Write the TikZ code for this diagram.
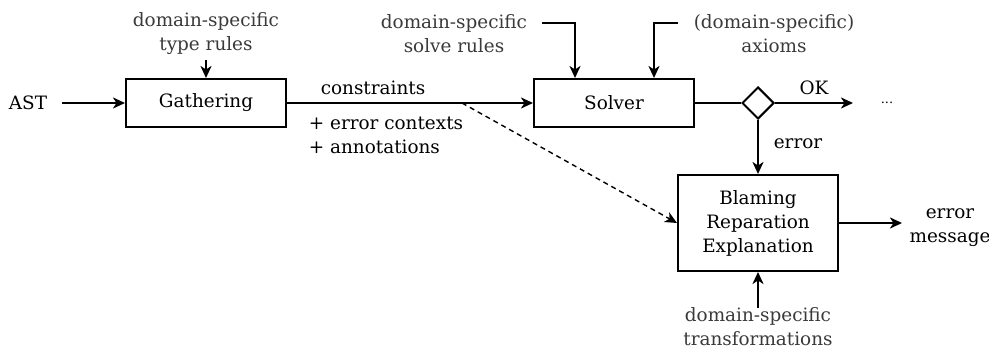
\documentclass[tikz,border=0pt]{standalone}
\usepackage{fontspec}
\setmainfont{DejaVu Serif}
\usetikzlibrary{arrows.meta,shapes.geometric}
\definecolor{annot}{HTML}{3A3A3A}
\begin{document}
\begin{tikzpicture}[x=1pt,y=-1pt,
  every node/.style={font=\fontsize{18.4}{24}\selectfont, inner sep=0pt},
  box/.style={draw, line width=2pt, minimum width=160pt, minimum height=48pt, align=center},
  lbl/.style={text=annot, align=center},
  conn/.style={line width=2pt, -{Stealth[length=12pt,width=11pt,inset=3.5pt]}},
  plain/.style={line width=2pt},
  dashconn/.style={line width=1.4pt, dash pattern=on 5pt off 4pt, -{Stealth[length=12pt,width=11pt,inset=3.5pt]}},
]
\useasboundingbox (0,0) rectangle (989,350);
% boxes
\node[box] (gath) at (206,103) {Gathering};
\node[box] (solv) at (614,103) {Solver};
\node[box, minimum height=96pt] (blame) at (758,223) {Blaming\\Reparation\\Explanation};
\node[draw, diamond, line width=2pt, minimum width=32pt, minimum height=32pt] (dia) at (758,103) {};
% labels
\node (ast) at (28,103) {AST};
\node[lbl] (tr) at (206,34) {domain-specific\\type rules};
\node[lbl] (sr) at (454,34) {domain-specific\\solve rules};
\node[lbl] (ax) at (774,34) {(domain-specific)\\axioms};
\node[lbl] (tf) at (758,327) {domain-specific\\transformations};
\node (ok) at (814,88) {OK};
\node[font=\fontsize{13}{14}\selectfont] (dots) at (887,103) {...};
\node (errlbl) at (798,144) {error};
\node[align=center] (emsg) at (950,228) {error\\message};
\node (cons) at (373,88) {constraints};
\node[align=left] (extra) at (386,135) {+ error contexts\\+ annotations};
% free ends
\coordinate (srin) at (542,23);
\coordinate (axin) at (678,23);
\coordinate (split) at (462,103);
\coordinate (okend) at (853,103);
\coordinate (emsgin) at (902,223);
% connectors
\draw[conn] ([xshift=15pt]ast.east) -- (gath.west);
\draw[conn] ([yshift=-5pt]tr.south) -- (gath.north);
\draw[conn] (gath.east) -- (solv.west);
\draw[conn] (srin) -| ([xshift=-39pt]solv.north);
\draw[conn] (axin) -| ([xshift=40pt]solv.north);
\draw[plain] (solv.east) -- (dia.west);
\draw[conn] (dia.east) -- (okend);
\draw[conn] (dia.south) -- (blame.north);
\draw[dashconn] (split) -- (blame.west);
\draw[conn] (blame.east) -- (emsgin);
\draw[conn] (tf.north) -- (blame.south);
\end{tikzpicture}
\end{document}
